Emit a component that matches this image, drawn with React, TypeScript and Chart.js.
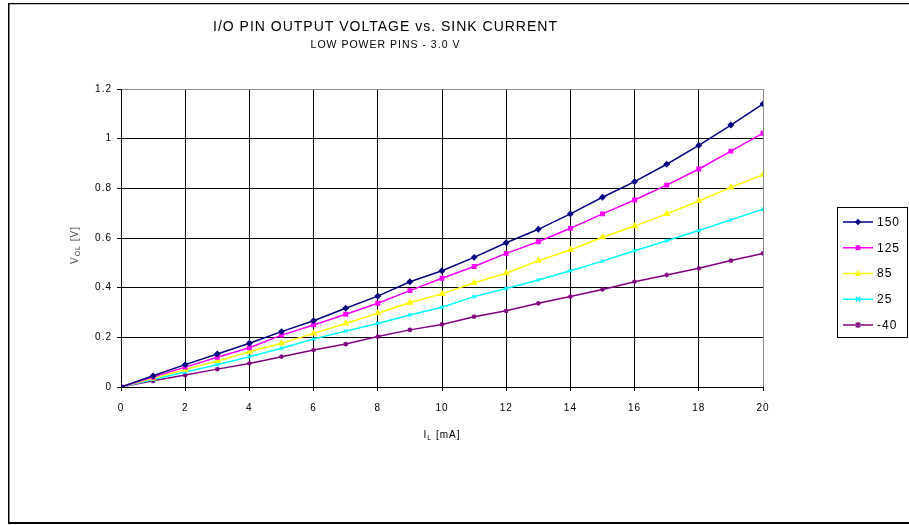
import React, { useEffect, useRef } from 'react';
import { Chart, registerables } from 'chart.js';

Chart.register(...registerables);

// ---- data ----
const sinkCurrentMA = [0, 1, 2, 3, 4, 5, 6, 7, 8, 9, 10, 11, 12, 13, 14, 15, 16, 17, 18, 19, 20];
const vol150 = [0, 0.045, 0.09, 0.133, 0.176, 0.223, 0.267, 0.317, 0.366, 0.424, 0.468, 0.522, 0.581, 0.635, 0.697, 0.764, 0.827, 0.897, 0.973, 1.055, 1.14];
const vol125 = [0, 0.04, 0.08, 0.12, 0.158, 0.209, 0.25, 0.293, 0.337, 0.388, 0.438, 0.485, 0.538, 0.585, 0.639, 0.697, 0.753, 0.813, 0.878, 0.95, 1.022];
const vol85 = [0, 0.035, 0.07, 0.105, 0.142, 0.176, 0.216, 0.256, 0.297, 0.34, 0.375, 0.42, 0.458, 0.509, 0.552, 0.603, 0.648, 0.697, 0.749, 0.804, 0.855];
const vol25 = [0, 0.03, 0.06, 0.09, 0.122, 0.156, 0.193, 0.225, 0.256, 0.29, 0.321, 0.364, 0.397, 0.431, 0.468, 0.507, 0.549, 0.589, 0.63, 0.673, 0.716];
const volMinus40 = [0, 0.025, 0.048, 0.072, 0.095, 0.122, 0.149, 0.173, 0.203, 0.23, 0.252, 0.283, 0.307, 0.337, 0.364, 0.393, 0.424, 0.451, 0.478, 0.509, 0.538];

const seriesValues = [vol150, vol125, vol85, vol25, volMinus40];
const seriesLabels = ['150', '125', '85', '25', '-40'];
const seriesColors = ['#000080', '#FF00FF', '#FFFF00', '#00FFFF', '#800080'];
const seriesMarkers = ['rectRot', 'rect', 'triangle', 'crossRot', 'star'];
const seriesMarkerRadius = [3.2, 3.2, 3.6, 3, 3];

const yTickLabels = ['0', '0.2', '0.4', '0.6', '0.8', '1', '1.2'];
const xTickLabels = ['0', '2', '4', '6', '8', '10', '12', '14', '16', '18', '20'];

const titleText = 'I/O PIN OUTPUT VOLTAGE vs. SINK CURRENT';
const subtitleText = 'LOW POWER PINS - 3.0 V';
const yTitleParts = ['V', 'OL', ' [V]'];
const xTitleParts = ['I', 'L', ' [mA]'];

const X_MIN = 0, X_MAX = 20, X_STEP = 2;
const Y_MIN = 0, Y_MAX = 1.2, Y_STEP = 0.2;

const FONT = "'Liberation Sans', Arial, sans-serif";

function drawMarker(ctx: CanvasRenderingContext2D, style: string, x: number, y: number, r: number, color: string) {
  ctx.save();
  ctx.fillStyle = color;
  ctx.strokeStyle = color;
  ctx.lineWidth = 1.3;
  ctx.beginPath();
  const d = r * 0.75;
  switch (style) {
    case 'rectRot':
      ctx.moveTo(x, y - r); ctx.lineTo(x + r, y); ctx.lineTo(x, y + r); ctx.lineTo(x - r, y); ctx.closePath(); ctx.fill();
      break;
    case 'rect':
      ctx.rect(x - r * 0.75, y - r * 0.75, r * 1.5, r * 1.5); ctx.fill();
      break;
    case 'triangle':
      ctx.moveTo(x, y - r); ctx.lineTo(x + r * 0.9, y + r * 0.6); ctx.lineTo(x - r * 0.9, y + r * 0.6); ctx.closePath(); ctx.fill();
      break;
    case 'crossRot':
      ctx.moveTo(x - d, y - d); ctx.lineTo(x + d, y + d); ctx.moveTo(x + d, y - d); ctx.lineTo(x - d, y + d); ctx.stroke();
      break;
    default:
      ctx.moveTo(x - d, y - d); ctx.lineTo(x + d, y + d); ctx.moveTo(x + d, y - d); ctx.lineTo(x - d, y + d);
      ctx.moveTo(x, y - r); ctx.lineTo(x, y + r); ctx.stroke();
  }
  ctx.restore();
}

function drawSubscripted(ctx: CanvasRenderingContext2D, parts: string[], cx: number, cy: number, size: number, subSize: number, color: string) {
  ctx.save();
  ctx.fillStyle = color;
  ctx.textBaseline = 'middle';
  ctx.textAlign = 'left';
  const fonts = [`${size}px ${FONT}`, `${subSize}px ${FONT}`, `${size}px ${FONT}`];
  const widths = parts.map((p, i) => { ctx.font = fonts[i]; return ctx.measureText(p).width; });
  const total = widths.reduce((a, b) => a + b, 0);
  let x = cx - total / 2;
  parts.forEach((p, i) => {
    ctx.font = fonts[i];
    ctx.fillText(p, x, i === 1 ? cy + 3 : cy);
    x += widths[i];
  });
  ctx.restore();
}

const decorPlugin = {
  id: 'decor',
  beforeDraw(chart: any) {
    const ctx = chart.ctx as CanvasRenderingContext2D;
    (ctx as any).letterSpacing = '1px';
    ctx.save();
    ctx.strokeStyle = '#000';
    ctx.lineWidth = 1.2;
    ctx.beginPath();
    ctx.moveTo(1000, 0.6); ctx.lineTo(0, 0.6);
    ctx.stroke();
    ctx.lineWidth = 2;
    ctx.beginPath();
    ctx.moveTo(0.5, 0); ctx.lineTo(0.5, 520);
    ctx.moveTo(0, 520); ctx.lineTo(1000, 520);
    ctx.stroke();
    ctx.restore();
  },
  afterDraw(chart: any) {
    const ctx = chart.ctx as CanvasRenderingContext2D;
    // axis titles with subscripts
    ctx.save();
    ctx.translate(67, 242);
    ctx.rotate(-Math.PI / 2);
    drawSubscripted(ctx, yTitleParts, 0, 0, 10, 7, '#444');
    ctx.restore();
    drawSubscripted(ctx, xTitleParts, 434, 432, 10, 7, '#000');

    // legend box
    ctx.save();
    ctx.strokeStyle = '#000';
    ctx.lineWidth = 1;
    ctx.strokeRect(829.5, 204.5, 70, 130);
    chart.data.datasets.forEach((ds: any, i: number) => {
      const y = 219 + i * 25.75;
      ctx.strokeStyle = ds.borderColor;
      ctx.lineWidth = 1.5;
      ctx.beginPath();
      ctx.moveTo(835, y); ctx.lineTo(865, y);
      ctx.stroke();
      drawMarker(ctx, seriesMarkers[i], 850, y, seriesMarkerRadius[i], ds.borderColor);
      ctx.fillStyle = '#000';
      ctx.font = `12px ${FONT}`;
      ctx.textBaseline = 'middle';
      ctx.textAlign = 'left';
      ctx.fillText(ds.label, 869, y + 0.5);
    });
    ctx.restore();
  },
};

export default function App() {
  const canvasRef = useRef<HTMLCanvasElement | null>(null);

  useEffect(() => {
    if (!canvasRef.current) return;
    const gridColor = (max: number) => (c: any) =>
      c.tick && Math.abs(c.tick.value - max) < 1e-9 ? '#8c8c8c' : '#000';

    const chart = new Chart(canvasRef.current, {
      type: 'line',
      data: {
        datasets: seriesValues.map((vals, i) => ({
          label: seriesLabels[i],
          data: sinkCurrentMA.map((x, j) => ({ x, y: vals[j] })),
          borderColor: seriesColors[i],
          backgroundColor: seriesColors[i],
          pointBackgroundColor: seriesColors[i],
          pointBorderColor: seriesColors[i],
          pointStyle: seriesMarkers[i] as any,
          pointRadius: seriesMarkerRadius[i] - 0.6,
          pointBorderWidth: 1.2,
          borderWidth: 1.5,
          tension: 0,
          fill: false,
        })),
      },
      options: {
        animation: false,
        responsive: false,
        devicePixelRatio: 1,
        layout: { padding: { left: 0, right: 149, top: 0, bottom: 0 } },
        plugins: {
          legend: { display: false },
          tooltip: { enabled: false },
          title: {
            display: true,
            text: titleText,
            color: '#000',
            font: { family: FONT, size: 14, weight: 'normal' as any, lineHeight: 1.2 },
            padding: { top: 15.3, bottom: 0 },
          },
          subtitle: {
            display: true,
            text: subtitleText,
            color: '#000',
            font: { family: FONT, size: 10.5, weight: 'normal' as any, lineHeight: 1.2 },
            padding: { top: 3.9, bottom: 37.4 },
          },
        },
        scales: {
          x: {
            type: 'linear',
            min: X_MIN,
            max: X_MAX,
            afterFit: (s: any) => { s.height = 137; },
            ticks: {
              stepSize: X_STEP, color: '#000', font: { family: FONT, size: 10 }, padding: 11, maxRotation: 0,
              callback: (_v: any, i: number) => xTickLabels[i],
            },
            grid: { color: gridColor(X_MAX), tickColor: '#000', tickLength: 4, lineWidth: 1 },
            border: { color: '#000', width: 1 },
            title: { display: false },
          },
          y: {
            type: 'linear',
            min: Y_MIN,
            max: Y_MAX,
            afterFit: (s: any) => { s.width = 113; },
            ticks: {
              stepSize: Y_STEP, color: '#000', font: { family: FONT, size: 10 }, padding: 5,
              callback: (_v: any, i: number) => yTickLabels[i],
            },
            grid: { color: gridColor(Y_MAX), tickColor: '#000', tickLength: 4, lineWidth: 1 },
            border: { color: '#000', width: 1 },
            title: { display: false },
          },
        },
      },
      plugins: [decorPlugin],
    });
    return () => chart.destroy();
  }, []);

  return (
    <div style={{ position: 'fixed', left: 0, top: 0, width: 909, height: 525, overflow: 'hidden', background: '#fff' }}>
      <div style={{ position: 'absolute', left: 8, top: 3, width: 904, height: 521 }}>
        <canvas ref={canvasRef} width={904} height={521} style={{ width: 904, height: 521, display: 'block' }} />
      </div>
    </div>
  );
}
